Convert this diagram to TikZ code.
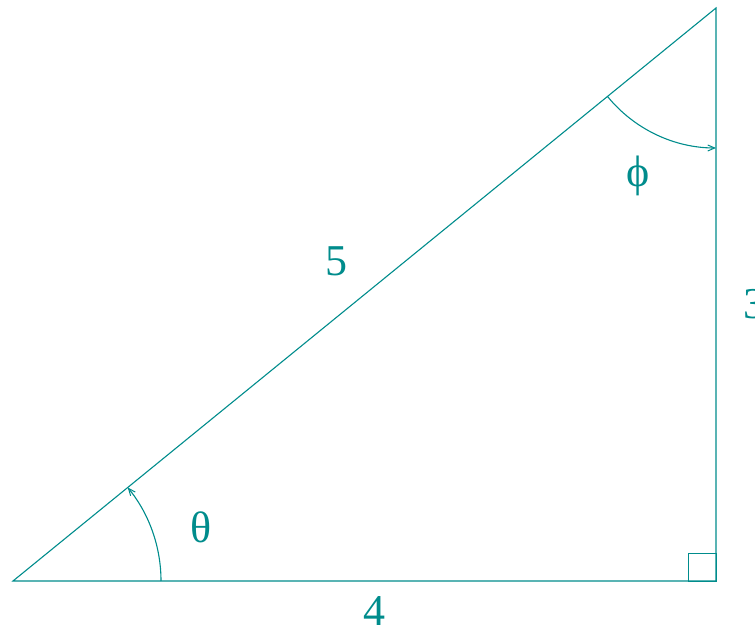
\documentclass[tikz,border=0pt]{standalone}
\usepackage{fontspec}
\setmainfont{Liberation Serif}
\usetikzlibrary{arrows.meta,calc}
\definecolor{tealc}{RGB}{0,140,140}
\begin{document}
\begin{tikzpicture}[x=1pt,y=1pt,
  edge/.style={draw=tealc,line width=1.1pt},
  anglearc/.style={draw=tealc,line width=1.1pt,-{Straight Barb[length=7pt,width=6pt,line width=1pt]}},
  lbl/.style={text=tealc,inner sep=0pt,font=\fontsize{44}{44}\selectfont}]
\useasboundingbox (0,0) rectangle (755,635);
\coordinate (A) at (13,54);
\coordinate (B) at (716,54);
\coordinate (C) at (716,627);
\draw[edge] (A) -- (B) -- (C) -- cycle;
\draw[edge,line width=1pt] (688,54) rectangle (716,82);
\draw[anglearc] ($(A)+(148,0)$) arc[start angle=0,end angle=39.18,radius=148];
\draw[anglearc] ($(C)+(219.18:140)$) arc[start angle=219.18,end angle=270,radius=140];
\node[lbl] (theta) at (201,108) {θ};
\node[lbl] (phi) at (638,459) {ϕ};
\node[lbl] (five) at (336,374) {5};
\node[lbl] (four) at (374,24) {4};
\node[lbl] (three) at (754,331) {3};
\end{tikzpicture}
\end{document}
